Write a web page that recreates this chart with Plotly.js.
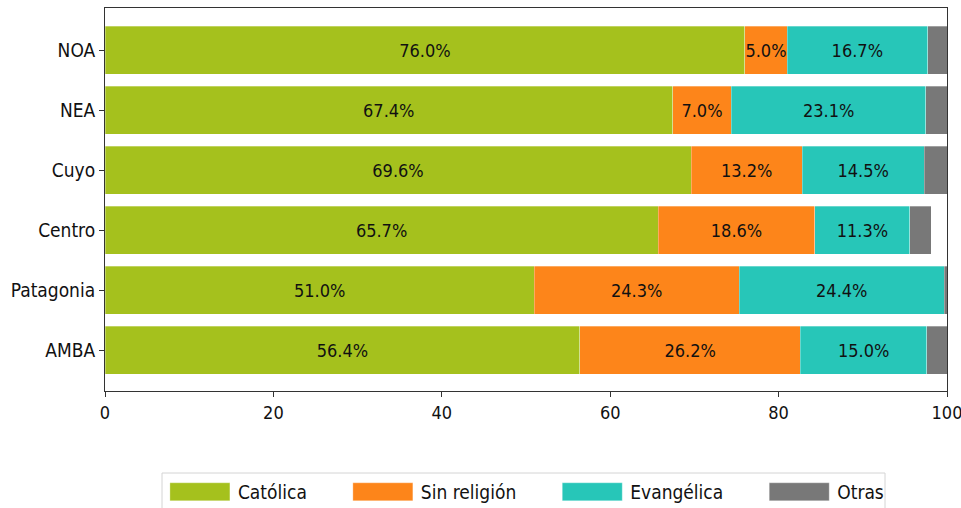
<!DOCTYPE html>
<html>
<head>
<meta charset="utf-8">
<script src="https://cdn.plot.ly/plotly-3.0.1.min.js"></script>
<style>html,body{margin:0;padding:0;background:#fff;}</style>
</head>
<body>
<div id="chart" style="width:961px;height:508px;"></div>
<script>
const regions = ['NOA', 'NEA', 'Cuyo', 'Centro', 'Patagonia', 'AMBA'];
const catolica = [76.0, 67.4, 69.6, 65.7, 51.0, 56.4];
const sinReligion = [5.0, 7.0, 13.2, 18.6, 24.3, 26.2];
const evangelica = [16.7, 23.1, 14.5, 11.3, 24.4, 15.0];
const otras = [2.3, 2.5, 2.7, 2.5, 0.3, 2.4];
const xTicks = [0, 20, 40, 60, 80, 100];

const FONT = '"Liberation Sans Narrow", "Arial Narrow", "DejaVu Sans Condensed", sans-serif';

function seg(name, vals, color, showText) {
  return {
    type: 'bar', orientation: 'h', name: name,
    x: vals, y: regions,
    marker: {color: color, line: {color: 'rgba(255,255,255,0.6)', width: 0.5}},
    text: showText ? vals.map(v => v.toFixed(1) + '%') : undefined,
    textposition: showText ? 'inside' : 'none',
    insidetextanchor: 'middle',
    textangle: 0,
    constraintext: 'none',
    insidetextfont: {family: FONT, size: 18, color: '#111'},
    hoverinfo: 'x+y+name'
  };
}

const data = [
  seg('Católica', catolica, '#a5c11d', true),
  seg('Sin religión', sinReligion, '#fd851a', true),
  seg('Evangélica', evangelica, '#27c6b8', true),
  seg('Otras', otras, '#787878', false)
];

const layout = {
  width: 961, height: 508,
  margin: {l: 105, r: 14, t: 8, b: 117, autoexpand: false},
  barmode: 'stack',
  bargap: 0.2,
  paper_bgcolor: '#fff', plot_bgcolor: '#fff',
  font: {family: FONT, size: 19, color: '#111'},
  xaxis: {
    range: [0, 100], tickvals: xTicks, ticktext: xTicks.map(String),
    showgrid: false, zeroline: false,
    showline: true, mirror: true, linecolor: '#333', linewidth: 1,
    ticks: 'outside', ticklen: 5, tickcolor: '#333',
    ticklabeloverflow: 'allow',
    tickfont: {family: FONT, size: 18, color: '#111'}
  },
  yaxis: {
    type: 'category', range: [5.683, -0.7],
    showgrid: false, zeroline: false,
    showline: true, mirror: true, linecolor: '#333', linewidth: 1,
    ticks: 'outside', ticklen: 5, tickcolor: '#333',
    tickfont: {family: FONT, size: 19, color: '#111'}
  },
  shapes: [{
    type: 'rect', xref: 'paper', yref: 'paper',
    x0: 0.0677, x1: 0.9264, y0: -0.2141, y1: -0.33,
    line: {color: '#d4d4d4', width: 1}, fillcolor: 'rgba(0,0,0,0)', layer: 'below'
  }],
  showlegend: true,
  legend: {
    orientation: 'h', x: 0.0284, xanchor: 'left', y: -0.214, yanchor: 'top',
    borderwidth: 0, bgcolor: 'rgba(0,0,0,0)',
    font: {family: FONT, size: 19, color: '#111'},
    itemwidth: 99, entrywidth: 0, entrywidthmode: 'pixels',
    traceorder: 'normal'
  }
};

Plotly.newPlot('chart', data, layout, {displayModeBar: false, staticPlot: true}).then(function (gd) {
  // wide rectangular legend swatches placed just left of each label, as in the reference
  gd.querySelectorAll('.legend g.traces').forEach(function (g) {
    const t = g.querySelector('text.legendtext');
    const tx = t ? parseFloat(t.getAttribute('x')) || 0 : 40;
    g.querySelectorAll('.legendpoints').forEach(function (lp) {
      lp.setAttribute('transform', 'translate(' + (tx - 38) + ',0)');
      lp.querySelectorAll('path').forEach(function (p) {
        p.setAttribute('d', 'M-30,-9H30V9H-30Z');
        p.removeAttribute('transform');
      });
    });
  });
});
</script>
</body>
</html>
